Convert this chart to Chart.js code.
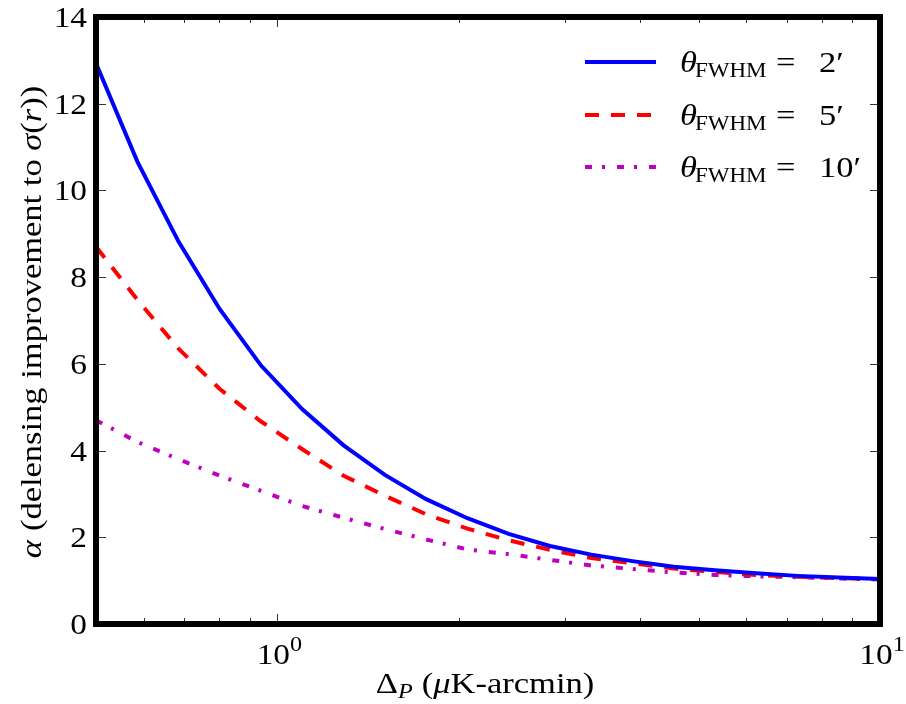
<!DOCTYPE html>
<html><head><meta charset="utf-8">
<script src="https://cdn.jsdelivr.net/npm/chart.js@4/dist/chart.umd.min.js"></script>
<style>html,body{margin:0;padding:0;background:#fff;}#wrap{width:906px;height:704px;}</style>
</head><body><div id="wrap"><canvas id="c" width="906" height="704"></canvas></div>
<script>
// ---- data ----
const deltaP = [0.5, 0.5854, 0.6854, 0.8024, 0.9395, 1.1000, 1.2879, 1.5078, 1.7654, 2.0669,
                2.4199, 2.8333, 3.3172, 3.8838, 4.5471, 5.3238, 6.2331, 7.2978, 8.5443, 10.0];
const alphaFWHM2 = [12.93, 10.67, 8.82, 7.26, 5.96, 4.95, 4.12, 3.44, 2.88, 2.44,
                    2.08, 1.80, 1.60, 1.45, 1.32, 1.24, 1.17, 1.11, 1.07, 1.04];
const alphaFWHM5 = [8.70, 7.48, 6.35, 5.42, 4.67, 4.03, 3.42, 2.96, 2.53, 2.20,
                    1.93, 1.71, 1.52, 1.40, 1.28, 1.20, 1.13, 1.09, 1.06, 1.03];
const alphaFWHM10 = [4.70, 4.20, 3.80, 3.42, 3.07, 2.72, 2.45, 2.19, 1.95, 1.72,
                     1.61, 1.48, 1.35, 1.27, 1.19, 1.13, 1.10, 1.08, 1.05, 1.03];
const seriesBeams = ['2′', '5′', '10′'];
const yTickValues = [0, 2, 4, 6, 8, 10, 12, 14];
const xMajorTicks = [1, 10];
const xMajorLabels = [['10', '0'], ['10', '1']];
const xMinorTicks = [0.6, 0.7, 0.8, 0.9, 2, 3, 4, 5, 6, 7, 8, 9];

const SERIF = '"Liberation Serif", "DejaVu Serif", serif';
const SX = 1.15; // horizontal stretch to approximate Computer Modern widths

function pts(ys) { return deltaP.map((x, i) => ({ x: x, y: ys[i] })); }

function drawRuns(ctx, runs, x, y, align) {
  let total = 0;
  runs.forEach(r => { ctx.font = r.font; r.w = ctx.measureText(r.t).width * SX; total += r.w + (r.gap || 0); });
  let cx = align === 'center' ? x - total / 2 : (align === 'right' ? x - total : x);
  runs.forEach(r => {
    ctx.font = r.font;
    ctx.save();
    ctx.translate(r.at !== undefined ? r.at : cx, y + (r.dy || 0));
    ctx.scale(SX, 1);
    ctx.fillText(r.t, 0, 0);
    ctx.restore();
    cx += r.w + (r.gap || 0);
  });
}

const decor = {
  id: 'decor',
  afterDatasetsDraw(chart) {
    const ctx = chart.ctx, a = chart.chartArea;
    const xs = chart.scales.x, ys = chart.scales.y;
    ctx.save();
    // ticks (inward, all four sides)
    ctx.strokeStyle = '#333';
    ctx.lineWidth = 1;
    const tick = (x1, y1, x2, y2) => { ctx.beginPath(); ctx.moveTo(x1, y1); ctx.lineTo(x2, y2); ctx.stroke(); };
    yTickValues.forEach(v => {
      const p = Math.round(ys.getPixelForValue(v)) + 0.5;
      tick(a.left, p, a.left + 10, p);
      tick(a.right, p, a.right - 10, p);
    });
    xMajorTicks.forEach(v => {
      const p = Math.round(xs.getPixelForValue(v)) + 0.5;
      tick(p, a.bottom, p, a.bottom - 10);
      tick(p, a.top, p, a.top + 10);
    });
    xMinorTicks.forEach(v => {
      const p = Math.round(xs.getPixelForValue(v)) + 0.5;
      tick(p, a.bottom, p, a.bottom - 6);
      tick(p, a.top, p, a.top + 6);
    });
    // frame
    ctx.strokeStyle = '#000';
    ctx.lineWidth = 6;
    ctx.strokeRect(a.left, a.top, a.right - a.left, a.bottom - a.top);

    ctx.fillStyle = '#000';
    ctx.textBaseline = 'alphabetic';
    // y tick labels
    yTickValues.forEach(v => {
      const p = ys.getPixelForValue(v);
      drawRuns(ctx, [{ t: String(v), font: '29px ' + SERIF }], 87, p + 10, 'right');
    });
    // x tick labels
    xMajorTicks.forEach((v, i) => {
      const p = xs.getPixelForValue(v);
      drawRuns(ctx, [
        { t: xMajorLabels[i][0], font: '29px ' + SERIF },
        { t: xMajorLabels[i][1], font: '21px ' + SERIF, dy: -13 }
      ], p + 2, 664, 'center');
    });
    // x title
    drawRuns(ctx, [
      { t: 'Δ', font: '30px ' + SERIF },
      { t: 'P', font: 'italic 21px ' + SERIF, dy: 5, gap: 9 },
      { t: '(', font: '30px ' + SERIF },
      { t: 'μ', font: 'italic 30px ' + SERIF },
      { t: 'K-arcmin)', font: '30px ' + SERIF }
    ], 485, 693, 'center');
    // y title
    ctx.save();
    ctx.translate(41, 322);
    ctx.rotate(-Math.PI / 2);
    drawRuns(ctx, [
      { t: 'α', font: 'italic 30px ' + SERIF, gap: 9 },
      { t: '(delensing improvement to ', font: '30px ' + SERIF },
      { t: 'σ', font: 'italic 30px ' + SERIF },
      { t: '(', font: '30px ' + SERIF },
      { t: 'r', font: 'italic 30px ' + SERIF },
      { t: '))', font: '30px ' + SERIF }
    ], 0, 0, 'center');
    ctx.restore();
    // legend
    const rows = [62, 115, 167];
    chart.data.datasets.forEach((ds, i) => {
      const yy = rows[i];
      ctx.save();
      ctx.strokeStyle = ds.borderColor;
      ctx.lineWidth = ds.borderWidth;
      ctx.setLineDash(ds.borderDash || []);
      ctx.beginPath(); ctx.moveTo(585, yy); ctx.lineTo(656, yy); ctx.stroke();
      ctx.restore();
      drawRuns(ctx, [
        { t: 'θ', font: 'italic 30px ' + SERIF, at: 680 },
        { t: 'FWHM', font: '20px ' + SERIF, dy: 5, at: 695 },
        { t: '=', font: '30px ' + SERIF, at: 776 },
        { t: seriesBeams[i], font: '30px ' + SERIF, at: 819 }
      ], 0, yy + 10, 'left');
    });
    ctx.restore();
  }
};

new Chart(document.getElementById('c'), {
  type: 'line',
  data: {
    datasets: [
      { label: 'θFWHM = 2′', data: pts(alphaFWHM2), borderColor: '#0000ff', borderWidth: 4, pointRadius: 0, tension: 0, fill: false },
      { label: 'θFWHM = 5′', data: pts(alphaFWHM5), borderColor: '#ff0000', borderWidth: 4, borderDash: [14, 12], pointRadius: 0, tension: 0, fill: false },
      { label: 'θFWHM = 10′', data: pts(alphaFWHM10), borderColor: '#bf00bf', borderWidth: 4, borderDash: [7, 10, 3, 12], pointRadius: 0, tension: 0, fill: false }
    ]
  },
  options: {
    responsive: false,
    animation: false,
    events: [],
    layout: { padding: { top: 17, right: 26, left: 0, bottom: 0 } },
    plugins: { legend: { display: false }, tooltip: { enabled: false } },
    scales: {
      x: {
        type: 'logarithmic', min: 0.5, max: 10,
        grid: { display: false }, border: { display: false },
        ticks: { display: false },
        afterFit(s) { s.height = 80; }
      },
      y: {
        min: 0, max: 14,
        grid: { display: false, drawTicks: false }, border: { display: false },
        ticks: { display: false, stepSize: 2 },
        afterFit(s) { s.width = 96; }
      }
    }
  },
  plugins: [decor]
});
</script></body></html>
